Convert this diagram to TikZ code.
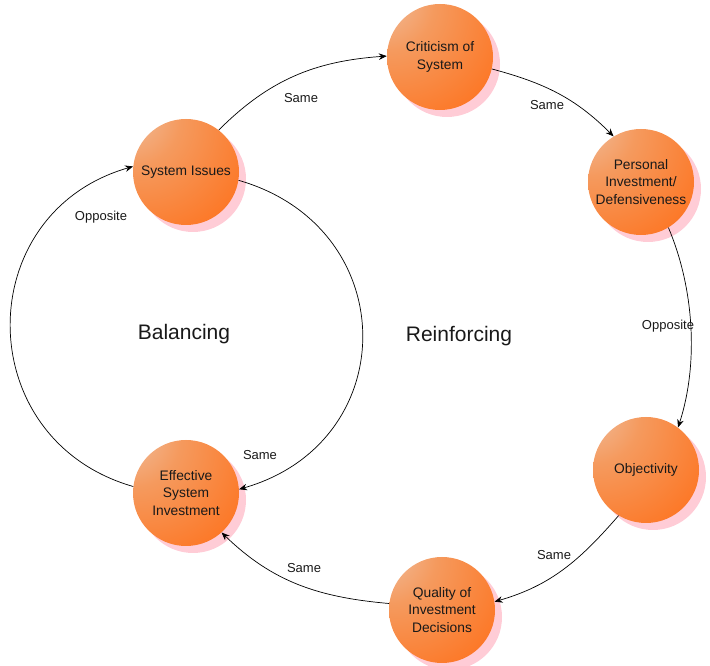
\documentclass[tikz,border=0pt]{standalone}
\usepackage{fontspec}
\setmainfont{Liberation Sans}
\usetikzlibrary{shadows,arrows.meta}
\definecolor{orbA}{HTML}{EFC6AC}
\definecolor{orbB}{HTML}{F59A5E}
\definecolor{orbC}{HTML}{FF6C14}
\definecolor{orbD}{HTML}{FF6000}
\definecolor{shadowpink}{HTML}{FFCCD6}
\pgfdeclareradialshading{orbshade}{\pgfpoint{-32bp}{32bp}}{color(0bp)=(orbA); color(22bp)=(orbB); color(58bp)=(orbC); color(100bp)=(orbD)}
\begin{document}
\begin{tikzpicture}[x=1pt,y=1pt,
  orb/.style={circle, minimum size=106pt, inner sep=0pt, shading=orbshade,
    drop shadow={shadow xshift=7pt, shadow yshift=-7pt, fill=shadowpink, opacity=1},
    align=center, font=\fontsize{13.8}{17.5}\selectfont, text=black!90},
  link/.style={draw=black, line width=0.7pt, -{Stealth[length=8pt,width=6.5pt]}},
  lbl/.style={font=\fontsize{13}{15}\selectfont, text=black!90, inner sep=1pt},
  big/.style={font=\fontsize{21}{25}\selectfont, text=black!90}]
\useasboundingbox (0,0) rectangle (710,666);
% nodes (y = 666 - image y)
\node[orb] (si) at (186,494) {System Issues};
\node[orb] (cs) at (440,609) {Criticism of\\System};
\node[orb] (pi) at (641,484) {Personal\\Investment/\\Defensiveness};
\node[orb] (ob) at (646,196) {Objectivity};
\node[orb] (qd) at (442,56) {Quality of\\Investment\\Decisions};
\node[orb] (es) at (186,173) {Effective\\System\\Investment};
% outer loop
\draw[link] (si.52) to[out=45,in=184] (cs.179);
\draw[link] (cs.-13) to[out=-15,in=135] (pi.121);
\draw[link] (pi.-59) to[out=-67,in=72,looseness=0.85] (ob.53);
\draw[link] (ob.-121) to[out=-131,in=16] (qd.9);
\draw[link] (qd.173) to[out=175,in=-44] (es.-48);
% inner loops
\draw[link] (si.-9) to[out=-16,in=16,looseness=1.42] (es.4);
\draw[link] (es.173) to[out=164,in=196,looseness=1.36] (si.174);
% labels
\node[lbl] (l1) at (301,568) {Same};
\node[lbl] (l2) at (547,561) {Same};
\node[lbl] (l3) at (668,340) {Opposite};
\node[lbl] (l4) at (554,111) {Same};
\node[lbl] (l5) at (304,98) {Same};
\node[lbl] (l6) at (260,211) {Same};
\node[lbl] (l7) at (101,449) {Opposite};
\node[big] (bal) at (184,332) {Balancing};
\node[big] (rei) at (459,330) {Reinforcing};
\end{tikzpicture}
\end{document}
